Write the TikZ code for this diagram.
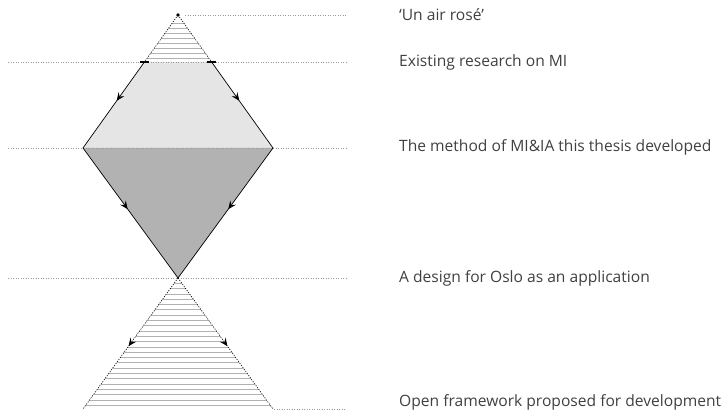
\documentclass[tikz,border=0pt]{standalone}
\usepackage{fontspec}
\setmainfont{Open Sans}
\usetikzlibrary{arrows.meta,decorations.markings}
\tikzset{guide/.style={dotted,gray!80,line width=0.5pt}}
\tikzset{edge/.style={black,line width=0.7pt}}
\tikzset{cone/.style={dash pattern=on 1.2pt off 1.3pt,black,line width=0.6pt}}
\tikzset{hatch/.style={gray!60,line width=1pt}}
\tikzset{flow/.style={postaction={decorate},decoration={markings,mark=at position #1 with {\arrow{Stealth[length=8pt,width=7pt,inset=3pt]}}}}}
\tikzset{stagetext/.style={anchor=west,inner sep=0pt,text=black!75,font=\fontsize{15.6}{18}\selectfont}}

\begin{document}
\begin{tikzpicture}[x=1pt,y=-1pt]
  \useasboundingbox (0,0) rectangle (726,411);
  % corners of the figure
  \coordinate (top) at (178,15);
  \coordinate (tl) at (144.4,62);
  \coordinate (tr) at (211.6,62);
  \coordinate (ml) at (83,148);
  \coordinate (mr) at (273,148);
  \coordinate (low) at (178,278);
  \coordinate (bl) at (83,409);
  \coordinate (br) at (273,409);
  % fill the two halves
  \fill[black!10] (tl) -- (ml) -- (mr) -- (tr) -- cycle;
  \fill[black!30] (ml) -- (low) -- (mr) -- cycle;
  % hatch the small cones
  \begin{scope}
    \clip (top) -- (tl) -- (tr) -- cycle;
    \foreach \y in {23.3,28.3,...,60} \draw[hatch] (100,\y) -- (260,\y);
  \end{scope}
  \begin{scope}
    \clip (low) -- (bl) -- (br) -- cycle;
    \foreach \y in {283.5,288.8,...,410} \draw[hatch] (60,\y) -- (300,\y);
  \end{scope}
  % draw the guide lines
  \draw[guide] (185,15) -- (346,15);
  \draw[guide] (8,62) -- (346,62);
  \draw[guide] (8,148) -- (346,148);
  \draw[guide] (8,278) -- (346,278);
  \draw[guide] (274,409) -- (346,409);
  % draw the cones
  \draw[cone] (top) -- (tl);
  \draw[cone] (top) -- (tr);
  \draw[cone,flow=0.52] (low) -- (bl);
  \draw[cone,flow=0.52] (low) -- (br);
  % draw the edges
  \draw[edge,flow=0.45] (tl) -- (ml);
  \draw[edge,flow=0.45] (tr) -- (mr);
  \draw[edge,flow=0.47] (ml) -- (low);
  \draw[edge,flow=0.47] (mr) -- (low);
  \draw[line width=1.6pt] ([xshift=-4.5pt]tl) -- ([xshift=5pt]tl);
  \draw[line width=1.6pt] ([xshift=-5pt]tr) -- ([xshift=4.5pt]tr);
  \fill (top) circle (1.8pt);
  % stage texts
  \node[stagetext] (air) at (399,15) {‘Un air rosé’};
  \node[stagetext] (research) at (399,62) {Existing research on MI};
  \node[stagetext] (method) at (399,147) {The method of MI\&IA this thesis developed};
  \node[stagetext] (design) at (399,278) {A design for Oslo as an application};
  \node[stagetext] (framework) at (399,402) {Open framework proposed for development};
\end{tikzpicture}
\end{document}
